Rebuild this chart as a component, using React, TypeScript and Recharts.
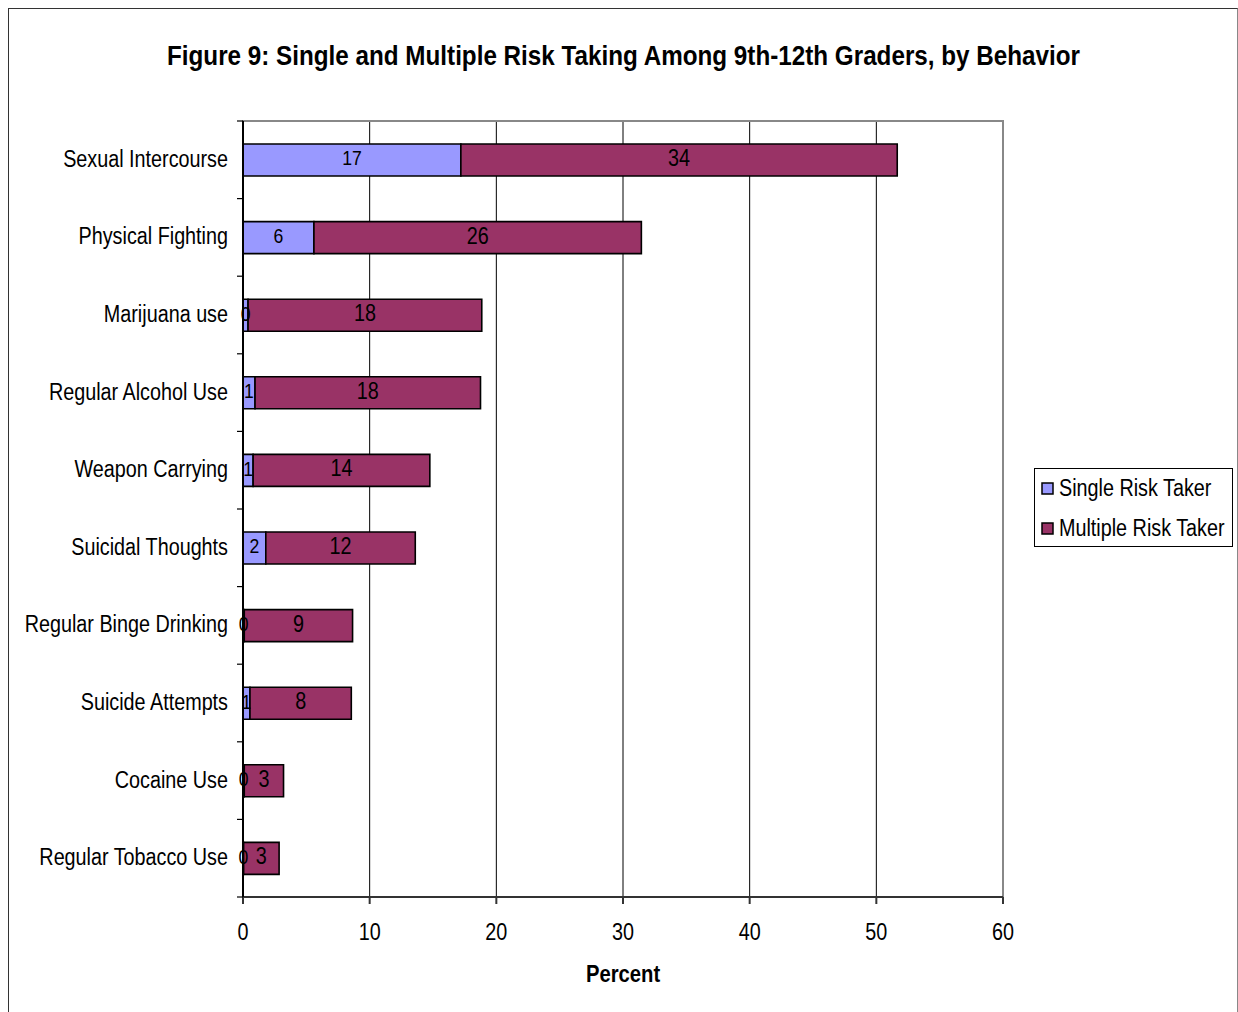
import React from "react";
import {
  BarChart,
  Bar,
  XAxis,
  YAxis,
  CartesianGrid,
  LabelList,
  ReferenceArea,
} from "recharts";

const behaviors = [
  "Sexual Intercourse",
  "Physical Fighting",
  "Marijuana use",
  "Regular Alcohol Use",
  "Weapon Carrying",
  "Suicidal Thoughts",
  "Regular Binge Drinking",
  "Suicide Attempts",
  "Cocaine Use",
  "Regular Tobacco Use",
];

const singleRisk = [17.2, 5.6, 0.4, 0.95, 0.8, 1.8, 0.1, 0.55, 0.1, 0.05];
const multipleRisk = [34.45, 25.85, 18.45, 17.8, 13.95, 11.8, 8.55, 8.0, 3.1, 2.8];

const percentTicks = [0, 10, 20, 30, 40, 50, 60];

const data = behaviors.map((name, i) => ({
  name,
  single: singleRisk[i],
  multiple: multipleRisk[i],
}));

const FONT = '"Liberation Sans", Arial, sans-serif';
const NARROW = 0.86;

const W = 1238;
const H = 1012;
const PLOT_LEFT = 243;
const PLOT_TOP = 121;
const PLOT_RIGHT = 1003;
const PLOT_BOTTOM = 897;
const BAND = (PLOT_BOTTOM - PLOT_TOP) / behaviors.length;

// Arial Narrow look-alike: regular Liberation Sans squeezed horizontally
const NText = ({ x, y, anchor = "middle", size = 23, bold = false, sx = NARROW, children }: any) => (
  <text
    transform={`translate(${x} ${y}) scale(${sx} 1)`}
    textAnchor={anchor}
    fontFamily={FONT}
    fontSize={size}
    fontWeight={bold ? "bold" : "normal"}
    fill="#000"
  >
    {children}
  </text>
);

const CategoryTick = ({ y, payload, index }: any) => (
  <g>
    <line x1={PLOT_LEFT - 6} x2={PLOT_LEFT} y1={y - BAND / 2} y2={y - BAND / 2} stroke="#000" strokeWidth={1.2} />
    {index === behaviors.length - 1 && (
      <line x1={PLOT_LEFT - 6} x2={PLOT_LEFT} y1={y + BAND / 2} y2={y + BAND / 2} stroke="#000" strokeWidth={1.2} />
    )}
    <NText x={228} y={y + 7} anchor="end">
      {payload.value}
    </NText>
  </g>
);

const PercentTick = ({ x, payload }: any) => (
  <NText x={x} y={PLOT_BOTTOM + 42.5}>
    {payload.value}
  </NText>
);

const segmentLabel = (size: number) => (props: any) => {
  const { x, y, width, height, value } = props;
  return (
    <NText x={Number(x) + Number(width) / 2} y={Number(y) + Number(height) / 2 + size * 0.26} size={size}>
      {Math.round(Number(value))}
    </NText>
  );
};

const legendItems = [
  { label: "Single Risk Taker", color: "#9999FF", y: 489 },
  { label: "Multiple Risk Taker", color: "#993366", y: 529 },
];

export default function App() {
  return (
    <div
      style={{
        position: "absolute",
        left: 0,
        top: 0,
        width: W,
        height: H,
        overflow: "hidden",
        background: "#fff",
      }}
    >
      <div
        style={{
          position: "absolute",
          left: 8,
          top: 8,
          width: 1230,
          height: 1100,
          borderLeft: "1.5px solid #333",
          borderTop: "1.5px solid #333",
          borderRight: "1.5px solid #888",
          boxSizing: "border-box",
        }}
      />
      <BarChart
        width={W}
        height={H}
        data={data}
        layout="vertical"
        barSize={32}
        margin={{ top: PLOT_TOP, right: W - PLOT_RIGHT, bottom: 0, left: 0 }}
        style={{ position: "absolute", left: 0, top: 0 }}
      >
        <ReferenceArea x1={0} x2={60} fill="none" stroke="#888" strokeWidth={2} ifOverflow="visible" />
        <CartesianGrid horizontal={false} stroke="#000" strokeWidth={1} />
        <XAxis
          type="number"
          domain={[0, 60]}
          ticks={percentTicks}
          height={H - PLOT_BOTTOM}
          tickSize={7}
          stroke="#333"
          strokeWidth={2}
          tick={<PercentTick />}
        />
        <YAxis
          type="category"
          dataKey="name"
          width={PLOT_LEFT}
          tickLine={false}
          stroke="#000"
          strokeWidth={2}
          tick={<CategoryTick />}
        />
        <Bar dataKey="single" stackId="a" fill="#9999FF" stroke="#000" strokeWidth={1.6} isAnimationActive={false}>
          <LabelList dataKey="single" content={segmentLabel(20.5)} />
        </Bar>
        <Bar dataKey="multiple" stackId="a" fill="#993366" stroke="#000" strokeWidth={1.6} isAnimationActive={false}>
          <LabelList dataKey="multiple" content={segmentLabel(23)} />
        </Bar>
      </BarChart>
      <svg
        width={W}
        height={H}
        style={{ position: "absolute", left: 0, top: 0, pointerEvents: "none" }}
      >
        <text
          x={623.5}
          y={65}
          textAnchor="middle"
          fontFamily={FONT}
          fontSize={28}
          fontWeight="bold"
          textLength={913}
          lengthAdjust="spacingAndGlyphs"
          fill="#000"
        >
          Figure 9: Single and Multiple Risk Taking Among 9th-12th Graders, by Behavior
        </text>
        <NText x={(PLOT_LEFT + PLOT_RIGHT) / 2} y={982} bold sx={0.88}>
          Percent
        </NText>
        <rect x={1034.5} y={468.5} width={198} height={78} fill="#fff" stroke="#000" strokeWidth={1} />
        {legendItems.map((item) => (
          <g key={item.label}>
            <rect x={1042} y={item.y - 6} width={11} height={11} fill={item.color} stroke="#000" strokeWidth={1.5} />
            <NText x={1059} y={item.y + 7} anchor="start">
              {item.label}
            </NText>
          </g>
        ))}
      </svg>
    </div>
  );
}
